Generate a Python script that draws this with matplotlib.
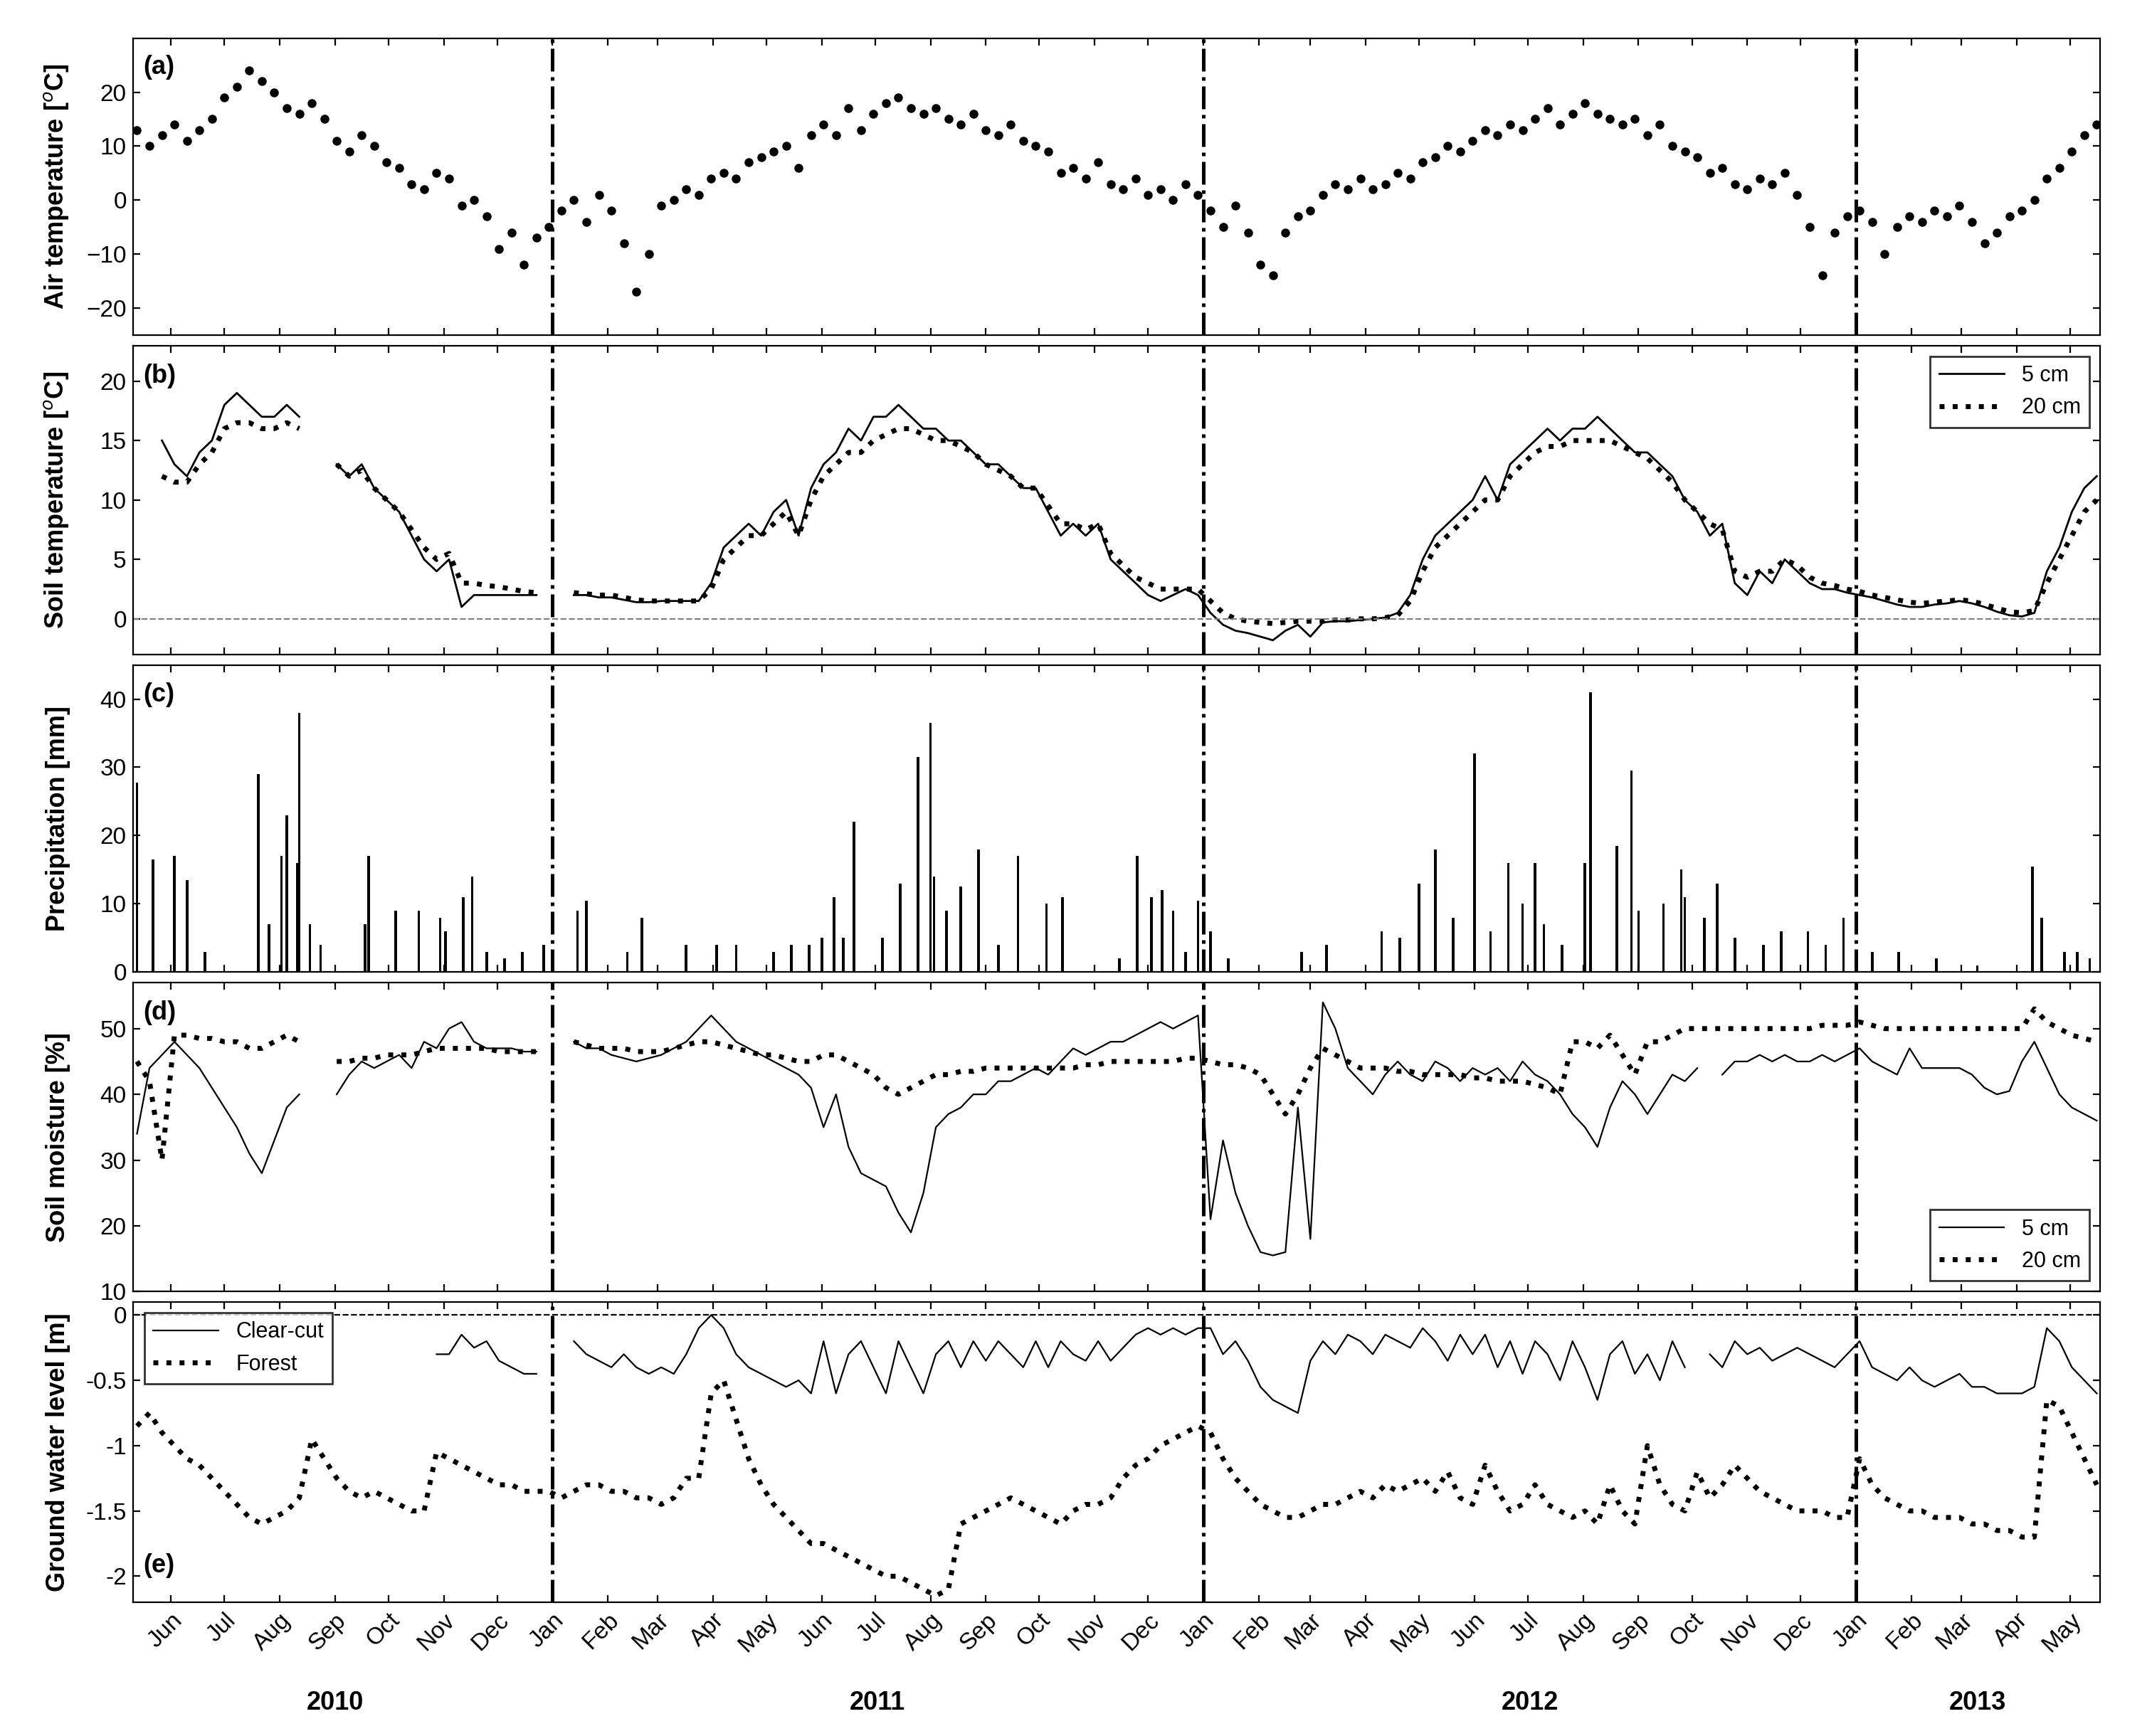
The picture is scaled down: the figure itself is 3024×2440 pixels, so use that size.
import matplotlib
matplotlib.use('Agg')
import matplotlib.pyplot as plt
import matplotlib.dates as mdates
import numpy as np
import pandas as pd

plt.rcParams['font.family'] = ['Liberation Sans', 'DejaVu Sans']
nan = np.nan

# weekly values, first week 2010-05-13
air_temp = [13, 10, 12, 14, 11, 13, 15, 19, 21, 24, 22, 20, 17, 16, 18, 15, 11, 9, 12, 10, 7,
            6, 3, 2, 5, 4, -1, 0, -3, -9, -6, -12, -7, -5,
            -2, 0, -4, 1, -2, -8, -17, -10, -1, 0, 2, 1, 4, 5, 4, 7, 8, 9, 10, 6, 12,
            14, 12, 17, 13, 16, 18, 19, 17, 16, 17, 15, 14, 16, 13, 12, 14, 11, 10,
            9, 5, 6, 4, 7, 3, 2, 4, 1, 2, 0, 3, 1,
            -2, -5, -1, -6, -12, -14, -6, -3, -2, 1, 3, 2, 4, 2, 3, 5, 4, 7, 8, 10, 9, 11,
            13, 12, 14, 13, 15, 17, 14, 16, 18, 16, 15, 14, 15, 12, 14, 10, 9,
            8, 5, 6, 3, 2, 4, 3, 5, 1, -5, -14, -6, -3,
            -2, -4, -10, -5, -3, -4, -2, -3, -1, -4, -8, -6, -3, -2, 0, 4, 6, 9, 12, 14]

soil_5 = [nan, nan, 15, 13, 12, 14, 15, 18, 19, 18, 17, 17, 18, 17, nan, nan, 13, 12, 13, 11, 10,
          9, 7, 5, 4, 5, 1, 2, 2, 2, 2, 2, 2, nan,
          nan, 2, 2, 1.8, 1.8, 1.6, 1.4, 1.4, 1.5, 1.5, 1.5, 1.5, 3, 6, 7, 8, 7, 9, 10, 7, 11,
          13, 14, 16, 15, 17, 17, 18, 17, 16, 16, 15, 15, 14, 13, 13, 12, 11, 11,
          9, 7, 8, 7, 8, 5, 4, 3, 2, 1.5, 2, 2.5, 2,
          0.5, -0.5, -1, -1.2, -1.5, -1.8, -1, -0.5, -1.5, -0.3, -0.2, -0.2, -0.1,
          0, 0.1, 0.5, 2, 5, 7, 8, 9, 10, 12, 10, 13, 14, 15, 16, 15, 16,
          16, 17, 16, 15, 14, 14, 13, 12, 10, 9, 7, 8, 3, 2, 4, 3, 5, 4, 3, 2.5, 2.5, 2.2,
          2, 1.8, 1.5, 1.2, 1, 1, 1.2, 1.3, 1.5, 1.3, 1, 0.6, 0.3, 0.2, 0.5, 4, 6, 9, 11, 12]
soil_20 = [nan, nan, 12, 11.5, 11.5, 13, 14, 16, 16.5, 16.5, 16, 16, 16.5, 16, nan, nan, 13, 12, 12.5, 11, 10,
           9, 7.5, 6, 5, 5.5, 3, 3, 2.8, 2.7, 2.5, 2.3, 2.2, nan,
           nan, 2.2, 2.1, 2, 2, 1.8, 1.6, 1.5, 1.5, 1.5, 1.5, 1.5, 2.5, 5, 6, 7, 7, 8, 9, 7, 10,
           12, 13, 14, 14, 15, 15.5, 16, 16, 15.5, 15, 15, 14.5, 14, 13, 12.5, 12, 11, 11,
           9.5, 8, 8, 7.5, 8, 5.5, 4.5, 3.5, 3, 2.5, 2.5, 2.5, 2.5,
           1.5, 0.5, 0, -0.2, -0.3, -0.4, -0.3, -0.2, -0.2, -0.2, -0.1, -0.1, 0,
           0, 0.1, 0.3, 1.5, 4, 6, 7, 8, 9, 10, 10, 12, 13, 14, 14.5, 14.5, 15,
           15, 15, 15, 14.5, 14, 13.5, 12.5, 11.5, 10, 9, 8, 7.5, 4, 3.5, 4, 4, 5, 4.5, 3.5, 3, 2.8, 2.5,
           2.3, 2, 1.8, 1.6, 1.4, 1.3, 1.4, 1.5, 1.6, 1.5, 1.2, 0.9, 0.6, 0.5, 0.7, 3, 5, 7, 9, 10]

moist_5 = [34, 44, 46, 48, 46, 44, 41, 38, 35, 31, 28, 33, 38, 40, nan, nan, 40, 43, 45, 44, 45,
           46, 44, 48, 47, 50, 51, 48, 47, 47, 47, 46.5, 46.5, nan,
           nan, 48, 47, 47, 46, 45.5, 45, 45.5, 46, 47, 48, 50, 52, 50, 48, 47, 46, 45, 44, 43, 41,
           35, 40, 32, 28, 27, 26, 22, 19, 25, 35, 37, 38, 40, 40, 42, 42, 43, 44,
           43, 45, 47, 46, 47, 48, 48, 49, 50, 51, 50, 51, 52,
           21, 33, 25, 20, 16, 15.5, 16, 38, 18, 54, 50, 44, 42, 40, 43, 45, 43, 42, 45, 44, 42, 44,
           43, 44, 42, 45, 43, 42, 40, 37, 35, 32, 38, 42, 40, 37, 40, 43, 42,
           44, nan, 43, 45, 45, 46, 45, 46, 45, 45, 46, 45, 46,
           47, 45, 44, 43, 47, 44, 44, 44, 44, 43, 41, 40, 40.5, 45, 48, 44, 40, 38, 37, 36]
moist_20 = [45, 42, 30, 49, 49, 48.5, 48.5, 48, 48, 47, 47, 48, 49, 48, nan, nan, 45, 45, 45.5, 45.5, 46,
            46, 46, 46.5, 47, 47, 47, 47, 47, 46.5, 46.5, 46.5, 46.5, nan,
            nan, 48, 47.5, 47, 47, 47, 46.5, 46.5, 46.5, 47, 47.5, 48, 48, 47.5, 47, 46.5, 46, 46, 45.5, 45, 45,
            46, 46, 45, 44, 43, 41, 40, 41, 42, 43, 43, 43.5, 43.5, 44, 44, 44, 44, 44,
            44, 44, 44, 44.5, 44.5, 45, 45, 45, 45, 45, 45, 45.5, 45.5,
            45, 44.5, 44.5, 44, 43, 40, 37, 40, 44, 47, 46, 45, 44, 44, 44, 43.5, 43.5,
            43, 43, 43, 43, 42.5, 42.5, 42, 42, 42, 41.5, 41, 40, 48, 48, 47, 49, 46, 43, 48, 48, 49, 50,
            50, 50, 50, 50, 50, 50, 50, 50, 50, 50, 50.5, 50.5, 50.5,
            51, 50.5, 50, 50, 50, 50, 50, 50, 50, 50, 50, 50, 50, 50, 53, 51, 50, 49, 48.5, 48]

gw_clearcut = [nan] * 24 + [-0.3, -0.3, -0.15, -0.25, -0.2, -0.35, -0.4, -0.45, -0.45, nan,
               nan, -0.2, -0.3, -0.35, -0.4, -0.3, -0.4, -0.45, -0.4, -0.45, -0.3, -0.1, 0.0,
               -0.1, -0.3, -0.4, -0.45, -0.5, -0.55, -0.5, -0.6, -0.2, -0.6, -0.3, -0.2, -0.4,
               -0.6, -0.2, -0.4, -0.6, -0.3, -0.2, -0.4, -0.2, -0.35, -0.2, -0.3, -0.4, -0.2,
               -0.4, -0.2, -0.3, -0.35, -0.2, -0.35, -0.25, -0.15, -0.1, -0.15, -0.1, -0.15, -0.1,
               -0.1, -0.3, -0.2, -0.35, -0.55, -0.65, -0.7, -0.75, -0.35, -0.2, -0.3, -0.15, -0.2,
               -0.3, -0.15, -0.2, -0.25, -0.1, -0.2, -0.35, -0.15, -0.3, -0.15, -0.4, -0.2, -0.45,
               -0.2, -0.3, -0.5, -0.2, -0.4, -0.65, -0.3, -0.2, -0.45, -0.3, -0.5, -0.2, -0.4,
               nan, -0.3, -0.4, -0.2, -0.3, -0.25, -0.35, -0.3, -0.25, -0.3, -0.35, -0.4, -0.3,
               -0.2, -0.4, -0.45, -0.5, -0.4, -0.5, -0.55, -0.5, -0.45, -0.55, -0.55, -0.6, -0.6,
               -0.6, -0.55, -0.1, -0.2, -0.4, -0.5, -0.6]
gw_forest = [-0.85, -0.75, -0.9, -1.0, -1.1, -1.15, -1.25, -1.35, -1.45, -1.55, -1.6, -1.55,
             -1.5, -1.4, -0.95, -1.1, -1.25, -1.35, -1.4, -1.35, -1.4, -1.45, -1.5, -1.5, -1.05,
             -1.1, -1.15, -1.2, -1.25, -1.3, -1.3, -1.35, -1.35, -1.35,
             -1.4, -1.35, -1.3, -1.3, -1.35, -1.35, -1.4, -1.4, -1.45, -1.4, -1.25, -1.25, -0.6,
             -0.5, -0.8, -1.1, -1.3, -1.45, -1.55, -1.65, -1.75, -1.75, -1.8, -1.85, -1.9, -1.95,
             -2.0, -2.0, -2.05, -2.1, -2.15, -2.1, -1.6, -1.55, -1.5, -1.45, -1.4, -1.45, -1.5,
             -1.55, -1.6, -1.5, -1.45, -1.45, -1.4, -1.25, -1.15, -1.1, -1.0, -0.95, -0.9, -0.85,
             -0.9, -1.1, -1.25, -1.35, -1.45, -1.5, -1.55, -1.55, -1.5, -1.45, -1.45, -1.4, -1.35,
             -1.4, -1.3, -1.35, -1.3, -1.25, -1.35, -1.2, -1.4, -1.45, -1.15, -1.35, -1.5, -1.45,
             -1.3, -1.45, -1.5, -1.55, -1.5, -1.6, -1.3, -1.5, -1.6, -1.0, -1.3, -1.45, -1.5,
             -1.2, -1.4, -1.3, -1.15, -1.25, -1.35, -1.4, -1.45, -1.5, -1.5, -1.5, -1.55, -1.55,
             -1.1, -1.3, -1.4, -1.45, -1.5, -1.5, -1.55, -1.55, -1.55, -1.6, -1.6, -1.65, -1.65,
             -1.7, -1.7, -0.65, -0.7, -0.9, -1.1, -1.3]

weeks = pd.date_range('2010-05-13', periods=len(air_temp), freq='7D')

# precipitation events
precip_dates = ['2010-05-13', '2010-05-22', '2010-06-03', '2010-06-10', '2010-06-20', '2010-07-20',
                '2010-07-26', '2010-08-02', '2010-08-05', '2010-08-11', '2010-08-12', '2010-08-18',
                '2010-08-24', '2010-09-18', '2010-09-20', '2010-10-05', '2010-10-18', '2010-10-30',
                '2010-11-02', '2010-11-12', '2010-11-17', '2010-11-25', '2010-12-05', '2010-12-15',
                '2010-12-27', '2011-01-15', '2011-01-20', '2011-02-12', '2011-02-20', '2011-03-17',
                '2011-04-03', '2011-04-14', '2011-05-05', '2011-05-15', '2011-05-25', '2011-06-01',
                '2011-06-08', '2011-06-13', '2011-06-19', '2011-07-05', '2011-07-15', '2011-07-25',
                '2011-08-01', '2011-08-03', '2011-08-10', '2011-08-18', '2011-08-28', '2011-09-08',
                '2011-09-19', '2011-10-05', '2011-10-14', '2011-11-15', '2011-11-25', '2011-12-03',
                '2011-12-09', '2011-12-15', '2011-12-22', '2011-12-29', '2012-01-05', '2012-01-15',
                '2012-02-25', '2012-03-10', '2012-04-10', '2012-04-20', '2012-05-01', '2012-05-10',
                '2012-05-20', '2012-06-01', '2012-06-10', '2012-06-20', '2012-06-28', '2012-07-05',
                '2012-07-10', '2012-07-20', '2012-08-02', '2012-08-05', '2012-08-20', '2012-08-28',
                '2012-09-01', '2012-09-15', '2012-09-25', '2012-09-27', '2012-10-08', '2012-10-15',
                '2012-10-25', '2012-11-10', '2012-11-20', '2012-12-05', '2012-12-15', '2012-12-25',
                '2013-01-10', '2013-01-25', '2013-02-15', '2013-03-10', '2013-04-10', '2013-04-15',
                '2013-04-28', '2013-05-05', '2013-05-12']
precip_mm = [27.8, 16.5, 17, 13.5, 3, 29, 7, 17, 23, 16, 38, 7, 4, 7, 17, 9, 9, 8, 6, 11, 14, 3, 2, 3,
             4, 9, 10.5, 3, 8, 4, 4, 4, 3, 4, 4, 5, 11, 5, 22, 5, 13, 31.5, 36.5, 14, 9, 12.5, 18, 4,
             17, 10, 11, 2, 17, 11, 12, 9, 3, 10.5, 6, 2, 3, 4, 6, 5, 13, 18, 8, 32, 6, 16, 10, 16,
             7, 4, 16, 41, 18.5, 29.5, 9, 10, 15, 11, 8, 13, 5, 4, 6, 6, 4, 8, 3, 3, 2, 1, 15.5, 8,
             3, 3, 2]

year_jans = ['2011-01-01', '2012-01-01', '2013-01-01']
year_labels = ['2010', '2011', '2012', '2013']
year_label_dates = ['2010-09-01', '2011-07-02', '2012-07-02', '2013-03-10']

fig = plt.figure(figsize=(15.12, 12.2), dpi=200)
tops = [0.978, 0.801, 0.617, 0.434, 0.250]
bots = [0.807, 0.623, 0.440, 0.256, 0.077]
axes = [fig.add_axes([0.062, b, 0.914, t - b]) for t, b in zip(tops, bots)]
xmin, xmax = pd.Timestamp('2010-05-11'), pd.Timestamp('2013-05-18')

ax = axes[0]
ax.plot(weeks, air_temp, 'k.', ms=7)
ax.set_ylim(-25, 30)
ax.set_yticks([-20, -10, 0, 10, 20])
ax.set_ylabel('Air temperature [$^o$C]')

ax = axes[1]
ax.plot(weeks, soil_5, 'k-', lw=1, label='5 cm')
ax.plot(weeks, soil_20, 'k:', lw=2.5, label='20 cm')
ax.axhline(0, color='gray', ls='--', lw=0.8)
ax.set_ylim(-3, 23)
ax.set_yticks([0, 5, 10, 15, 20])
ax.set_ylabel('Soil temperature [$^o$C]')
ax.legend(loc='upper right', fontsize=11, fancybox=False, edgecolor='k', handlelength=3)

ax = axes[2]
ax.bar(pd.to_datetime(precip_dates), precip_mm, width=1.5, color='k')
ax.set_ylim(0, 45)
ax.set_yticks([0, 10, 20, 30, 40])
ax.set_ylabel('Precipitation [mm]')

ax = axes[3]
ax.plot(weeks, moist_5, 'k-', lw=0.8, label='5 cm')
ax.plot(weeks, moist_20, 'k:', lw=2.5, label='20 cm')
ax.set_ylim(10, 57)
ax.set_yticks([10, 20, 30, 40, 50])
ax.set_ylabel('Soil moisture [%]')
ax.legend(loc='lower right', fontsize=11, fancybox=False, edgecolor='k', handlelength=3)

ax = axes[4]
ax.plot(weeks, gw_clearcut, 'k-', lw=0.8, label='Clear-cut')
ax.plot(weeks, gw_forest, 'k:', lw=2.5, label='Forest')
ax.axhline(0, color='k', ls='--', lw=0.8)
ax.set_ylim(-2.2, 0.1)
ax.set_yticks([-2, -1.5, -1, -0.5, 0])
ax.set_yticklabels(['-2', '-1.5', '-1', '-0.5', '0'])
ax.set_ylabel('Ground water level [m]')
ax.legend(loc='upper left', fontsize=11, fancybox=False, edgecolor='k', handlelength=3)

for i, ax in enumerate(axes):
    for d in year_jans:
        ax.axvline(pd.Timestamp(d), color='k', ls='-.', lw=1.8)
    ax.set_xlim(xmin, xmax)
    ax.xaxis.set_major_locator(mdates.MonthLocator())
    ax.xaxis.set_major_formatter(mdates.DateFormatter('%b'))
    ax.tick_params(direction='in', labelsize=12, top=True, right=True)
    ax.yaxis.label.set_fontsize(13)
    ax.yaxis.label.set_fontweight('bold')
    if i < 4:
        ax.tick_params(labelbottom=False)
    else:
        plt.setp(ax.get_xticklabels(), rotation=45, ha='right', rotation_mode='anchor')
    ax.get_yaxis().set_label_coords(-0.032, 0.5)
    lab = '(%s)' % 'abcde'[i]
    ax.text(0.005, 0.88 if i < 4 else 0.1, lab, transform=ax.transAxes,
            fontsize=13, fontweight='bold')

for lab, d in zip(year_labels, year_label_dates):
    xf = 0.062 + 0.914 * (pd.Timestamp(d) - xmin) / (xmax - xmin)
    fig.text(xf, 0.015, lab, ha='center', fontsize=13, fontweight='bold')

fig.savefig('out.png', dpi=200)
